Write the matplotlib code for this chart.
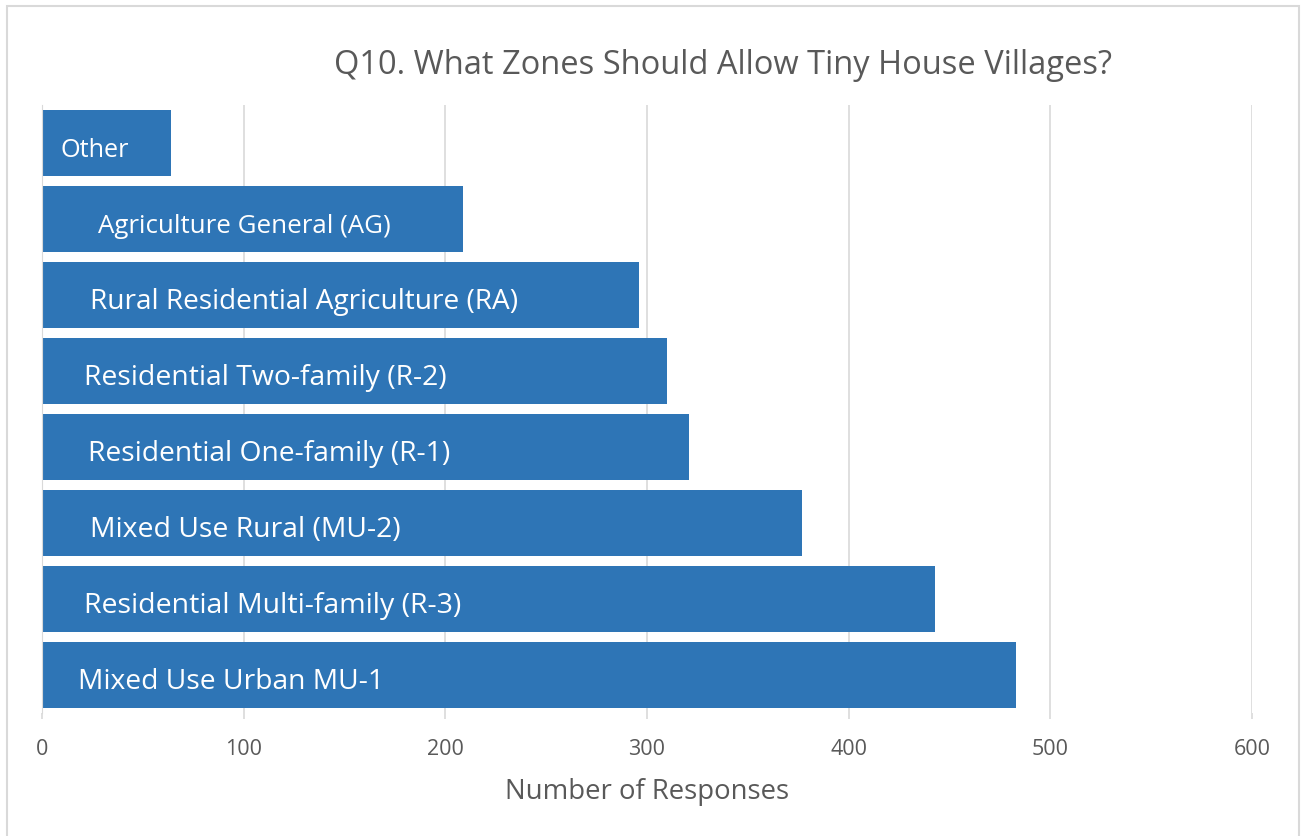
import matplotlib
matplotlib.use("Agg")
import matplotlib.pyplot as plt
from matplotlib.patches import Rectangle

# survey answers, top bar first
zones = ['Other', 'Agriculture General (AG)', 'Rural Residential Agriculture (RA)',
         'Residential Two-family (R-2)', 'Residential One-family (R-1)',
         'Mixed Use Rural (MU-2)', 'Residential Multi-family (R-3)', 'Mixed Use Urban MU-1']
responses = [64, 209, 296, 310, 321, 377, 443, 483]
xticks = [0, 100, 200, 300, 400, 500, 600]

# label look (offset from bar start in data units, font size)
label_offset = [9, 28, 24, 21, 23, 24, 21, 18]
label_size = [18.2, 18.6, 20.2, 20.4, 20.3, 20.4, 20.5, 20.3]

bar_color = '#2E75B6'
grey_text = '#595959'
plt.rcParams['font.family'] = ['Open Sans', 'DejaVu Sans']

fig = plt.figure(figsize=(13.02, 8.37), dpi=100)
ax = fig.add_axes([42/1302, 1-714/837, 1210/1302, 608/837])

# outer frame like the excel chart area (bottom edge is cut off)
fig.patches.append(Rectangle((7/1302, -0.05), 1292/1302, 1.05-7/837, transform=fig.transFigure,
                             fill=False, edgecolor='#d9d9d9', linewidth=1.5))

ypos = list(range(len(zones)))
ax.barh(ypos, responses, height=0.865, color=bar_color, zorder=2)
for i, name in enumerate(zones):
    ax.text(label_offset[i], ypos[i] + 0.08, name, color='white', fontsize=label_size[i],
            va='center', ha='left', zorder=3)

ax.set_ylim(len(zones) - 0.5, -0.5)
ax.set_xlim(0, 600)
ax.set_xticks(xticks)
ax.set_yticks([])
ax.grid(axis='x', color='#d9d9d9', linewidth=1.2, zorder=0)
for s in ['top', 'right', 'bottom']:
    ax.spines[s].set_visible(False)
ax.spines['left'].set_color('#d9d9d9')
ax.tick_params(axis='x', colors='#d9d9d9', length=4, width=1.2, labelcolor=grey_text,
               labelsize=15.5, pad=14)

ax.set_xlabel('Number of Responses', fontsize=19.8, color=grey_text, labelpad=13)
fig.text(723/1302, 1-65/837, 'Q10. What Zones Should Allow Tiny House Villages?',
         fontsize=23.5, color=grey_text, ha='center', va='center')

fig.savefig('out.png', dpi=100)
